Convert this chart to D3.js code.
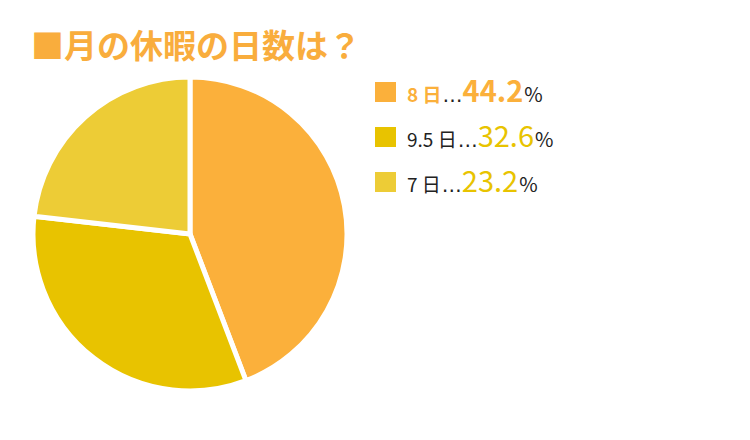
<!DOCTYPE html>
<html>
<head>
<meta charset="utf-8">
<title>月の休暇の日数</title>
<script src="https://cdnjs.cloudflare.com/ajax/libs/d3/7.8.5/d3.min.js"></script>
<style>
  body { margin: 0; background: #fff; }
  svg { font-family: "Noto Sans CJK JP", "Noto Sans", sans-serif; }
</style>
</head>
<body>
<script>
  // data
  var labels = ['8 日', '9.5 日', '7 日'];
  var values = [44.2, 32.6, 23.2];
  var colors = ['#fbb03b', '#e8c300', '#edcc36'];
  var valueColors = ['#fbb03b', '#e8c300', '#e8c300'];

  var w = 750, h = 440;

  var svg = d3.select('body').append('svg')
    .attr('width', w)
    .attr('height', h);

  // title
  svg.append('text')
    .attr('x', 31)
    .attr('y', 58)
    .attr('fill', '#f9ad3d')
    .attr('font-size', 33)
    .attr('font-weight', 'bold')
    .text('■月の休暇の日数は？');

  // pie
  var pie = d3.pie().sort(null).value(function(d) { return d; });
  var arc = d3.arc().innerRadius(0).outerRadius(157);

  var g = svg.append('g').attr('transform', 'translate(190,234)');

  g.selectAll('path')
    .data(pie(values))
    .enter()
    .append('path')
      .attr('d', arc)
      .attr('fill', function(d, i) { return colors[i]; })
      .attr('stroke', '#fff')
      .attr('stroke-width', 5);

  // legend
  var legend = svg.selectAll('.legend')
    .data(values)
    .enter()
    .append('g')
      .attr('class', 'legend')
      .attr('transform', function(d, i) { return 'translate(375,' + (82 + i * 45) + ')'; });

  legend.append('rect')
    .attr('width', 21)
    .attr('height', 20)
    .attr('fill', function(d, i) { return colors[i]; });

  var txt = legend.append('text')
    .attr('x', 32)
    .attr('y', 20);

  txt.append('tspan')
    .attr('font-size', 19)
    .attr('font-weight', function(d, i) { return i === 0 ? 'bold' : 'normal'; })
    .attr('fill', function(d, i) { return i === 0 ? '#fbb03b' : '#222'; })
    .text(function(d, i) { return labels[i]; });

  txt.append('tspan')
    .attr('font-size', 20)
    .attr('font-family', '"DejaVu Sans", sans-serif')
    .attr('fill', '#222')
    .attr('dx', 1)
    .text('…');

  txt.append('tspan')
    .attr('font-size', 29)
    .attr('font-weight', function(d, i) { return i === 0 ? 'bold' : 'normal'; })
    .attr('fill', function(d, i) { return valueColors[i]; })
    .text(function(d) { return d.toFixed(1); });

  txt.append('tspan')
    .attr('font-size', 20)
    .attr('fill', '#222')
    .attr('dx', 1)
    .text('%');
</script>
</body>
</html>
